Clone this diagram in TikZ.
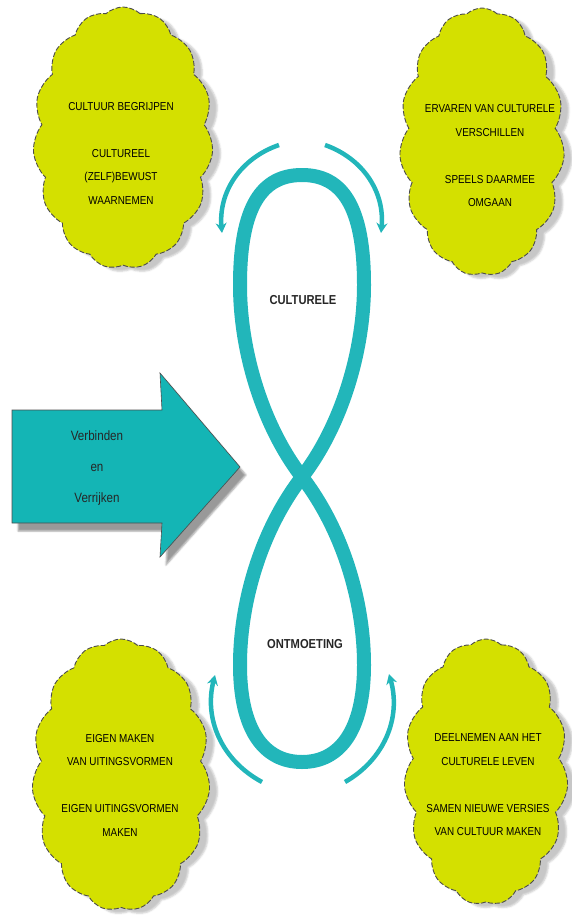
\documentclass[tikz,border=0pt]{standalone}
\usepackage{fontspec}
\newfontfamily\narrowfont[FakeStretch=0.86]{Liberation Sans}
\usetikzlibrary{shapes.symbols,shadows.blur,arrows.meta}

\definecolor{loopteal}{RGB}{34,182,186}
\definecolor{arrowteal}{RGB}{20,181,181}
\definecolor{cloudgreen}{RGB}{212,224,0}

\tikzset{
  idea/.style={cloud, cloud puffs=15, cloud puff arc=85, cloud ignores aspect,
    draw=black!70, dash pattern=on 5pt off 2pt, line width=0.9pt, fill=cloudgreen, inner sep=0pt,
    blur shadow={shadow xshift=8pt, shadow yshift=-4pt, shadow opacity=22}},
  ideatext/.style={font=\narrowfont\fontsize{11.5}{23.5}\selectfont, align=center, text=black},
  turn/.style={loopteal, line width=4.5pt, -{Stealth[length=10pt,width=11pt]}},
}

\begin{document}
\begin{tikzpicture}[x=1pt,y=-1pt]
\useasboundingbox (0,0) rectangle (572,917);

% clouds
\node[idea, minimum width=180, minimum height=262] (begrijpen) at (123,138) {};
\node[idea, minimum width=165, minimum height=268] (ervaren) at (482,142) {};
\node[idea, minimum width=178, minimum height=272] (maken) at (121,775) {};
\node[idea, minimum width=164, minimum height=266] (deelnemen) at (486,772) {};

\node[ideatext] (begrijpentext) at (121,153)
  {CULTUUR BEGRIJPEN\\[23.5pt]CULTUREEL\\(ZELF)BEWUST\\WAARNEMEN};
\node[ideatext] (ervarentext) at (490,156)
  {ERVAREN VAN CULTURELE\\VERSCHILLEN\\[23.5pt]SPEELS DAARMEE\\OMGAAN};
\node[ideatext] (makentext) at (120,785)
  {EIGEN MAKEN\\VAN UITINGSVORMEN\\[23.5pt]EIGEN UITINGSVORMEN\\MAKEN};
\node[ideatext] (deelnementext) at (488,785)
  {DEELNEMEN AAN HET\\CULTURELE LEVEN\\[23.5pt]SAMEN NIEUWE VERSIES\\VAN CULTUUR MAKEN};

% big arrow
\draw[black!70, fill=arrowteal, line width=0.6pt,
  blur shadow={shadow xshift=6pt, shadow yshift=-8pt, shadow opacity=40}]
  (12,410) -- (162,410) -- (160,373) -- (240,467) -- (160,557) -- (162,523)
  -- (12,523) -- cycle;
\node[font=\narrowfont\fontsize{13.5}{31}\selectfont, align=center, text=black!85]
  (verbinden) at (97,468) {Verbinden\\en\\Verrijken};

% figure eight
\coordinate (cross) at (302,477);
\draw[loopteal, line width=14pt, line join=round]
  (cross) .. controls (342,425) and (364,350) .. (364,285)
  .. controls (364,206) and (342,175) .. (302,175)
  .. controls (262,175) and (240,206) .. (240,285)
  .. controls (240,350) and (262,425) .. (cross)
  .. controls (342,529) and (364,600) .. (364,665)
  .. controls (364,730) and (340,762) .. (302,762)
  .. controls (264,762) and (240,730) .. (240,665)
  .. controls (240,600) and (262,529) .. (cross) -- cycle;

\node[font=\bfseries\narrowfont\fontsize{13}{15}\selectfont, text=black!85] (culturele) at (303,300) {CULTURELE};
\node[font=\bfseries\narrowfont\fontsize{13}{15}\selectfont, text=black!85] (ontmoeting) at (305,644) {ONTMOETING};

% turning arrows
\coordinate (tl1) at (279,145);
\coordinate (tl2) at (222,233);
\coordinate (tr1) at (325,145);
\coordinate (tr2) at (381,233);
\coordinate (bl1) at (262,782);
\coordinate (bl2) at (215,675);
\coordinate (br1) at (345,782);
\coordinate (br2) at (389,674);
\draw[turn] (tl1) to[bend right=38] (tl2);
\draw[turn] (tr1) to[bend left=38] (tr2);
\draw[turn] (bl1) to[bend left=38] (bl2);
\draw[turn] (br1) to[bend right=38] (br2);
\end{tikzpicture}
\end{document}
